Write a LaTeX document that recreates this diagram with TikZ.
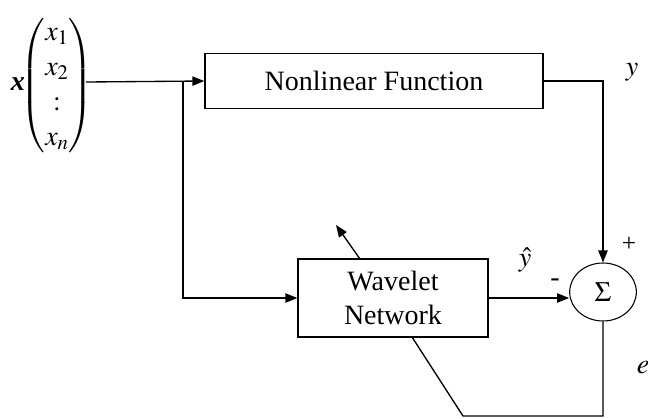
\documentclass[tikz,border=0pt]{standalone}
\usepackage{amsmath}
\usepackage{mathptmx}
\usepackage{fontspec}
\setmainfont{Liberation Serif}
\usepackage{tikz}
\usetikzlibrary{arrows.meta}
\usetikzlibrary{shapes}

\tikzset{
  block/.style={draw, line width=1pt, inner sep=0pt, align=center},
  arr/.style={line width=1pt, -{Triangle[length=9pt,width=7pt]}},
  wire/.style={line width=1pt}
}

\begin{document}
\begin{tikzpicture}[x=0.75pt,y=0.75pt,yscale=-1,xscale=1,font=\fontsize{21}{25}\selectfont]
\useasboundingbox (0,0) rectangle (648,418);
\node (xlab) [inner sep=0pt] at (18,84) {\textbf{\textit{x}}};
\node (vec) [inner sep=0pt] at (57,86) {$\left(\renewcommand{\arraystretch}{1.05}\begin{matrix} x_1\\ x_2\\ :\\ x_n\end{matrix}\right)$};
\coordinate (in) at (86,82);
\coordinate (split) at (183,82);
\node (nlf) [block, minimum width=253.5pt, minimum height=41pt] at (374,81) {Nonlinear Function};
\node (wn) [block, minimum width=142.5pt, minimum height=58.5pt] at (393,298) {Wavelet\\Network};
\node (sum) [draw, ellipse, line width=0.8pt, minimum width=50pt, minimum height=43.5pt, inner sep=0pt] at (603,292) {$\Sigma$};
\coordinate (fbr) at (603,416);
\coordinate (fbl) at (463,416);
\coordinate (wnb) at (412,337);
\coordinate (wnt) at (360,259);
\coordinate (adj) at (336,225);
% connectors
\draw [arr] (in) -- (nlf.west);
\draw [arr] (split) |- (wn.west);
\draw [arr] (nlf.east) -| (sum.north);
\draw [arr] (wn.east) -- (wn.east -| sum.west);
\draw [wire] (sum.south) -- (fbr) -- (fbl) -- (wnb);
\draw [arr] (wnt) -- (adj);
% labels
\node (ylab) at (632,72) {$y$};
\node (yhat) at (525,260) {$\hat{y}$};
\node (plus) at (629,244) {\fontsize{19}{21}\selectfont +};
\node (minus) at (555,283) {-};
\node (elab) at (643,368) {$e$};
\end{tikzpicture}
\end{document}
